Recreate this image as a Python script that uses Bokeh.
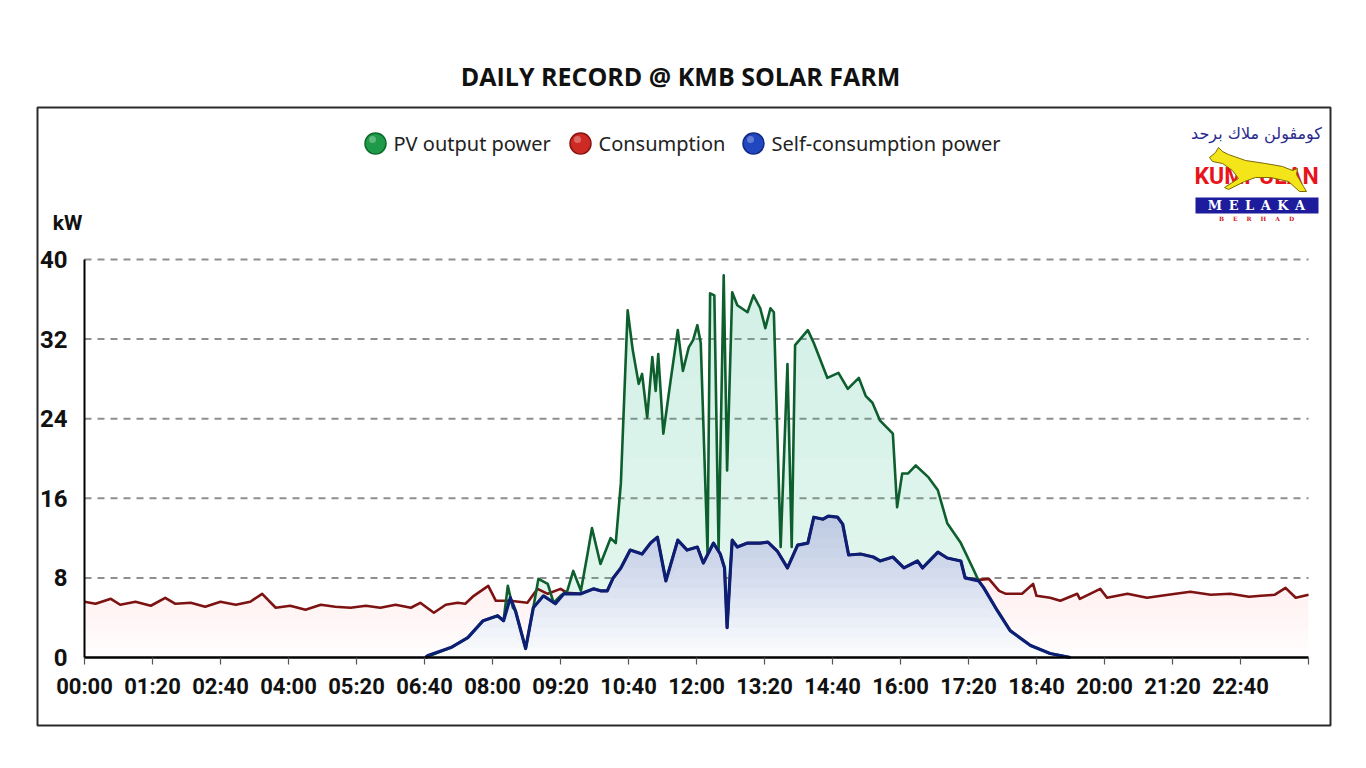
from bokeh.plotting import figure
from bokeh.models import LinearAxis, FixedTicker, Range1d
from bokeh.core.properties import value
from bokeh.embed import file_html
from bokeh.resources import INLINE

# ---------------- data (time in minutes since 00:00, power in kW) ----------------
pv_t = [401, 431, 451, 469, 486, 493, 498, 504, 507, 519, 528, 534, 545, 552, 560, 568, 575,
        584, 592, 597, 607, 619, 625, 631, 639, 645, 652, 656, 662, 668, 672, 675, 681, 689,
        698, 704, 711, 716, 721, 725, 733, 736, 741, 746, 752, 756, 762, 768, 780, 787, 795,
        801, 807, 811, 819, 827, 832, 836, 851, 858, 874, 887, 898, 911, 919, 927, 936, 951,
        956, 962, 969, 978, 993, 1004, 1015, 1031, 1045, 1052, 1058, 1074, 1089, 1113, 1136, 1160]
pv_kw = [0.0, 1.0, 2.0, 3.7, 4.2, 3.7, 7.2, 5.0, 4.7, 0.9, 5.0, 7.9, 7.4, 5.5, 6.2, 6.7, 8.7,
         6.7, 10.5, 13.0, 9.4, 12.0, 11.5, 17.5, 34.9, 30.9, 27.5, 28.5, 24.1, 30.2, 26.8, 30.5, 22.5, 27.5,
         32.9, 28.8, 31.2, 31.9, 33.4, 31.6, 10.5, 36.6, 36.4, 10.8, 38.4, 18.8, 36.7, 35.4, 34.7, 36.4, 35.1,
         33.1, 35.1, 34.7, 11.1, 29.5, 11.1, 31.4, 32.9, 31.6, 28.1, 28.6, 27.0, 28.1, 26.3, 25.6, 23.8, 22.5,
         15.1, 18.5, 18.5, 19.3, 18.1, 16.8, 13.5, 11.5, 9.0, 7.7, 7.0, 4.7, 2.7, 1.2, 0.4, 0.0]

self_t = [401, 404, 431, 451, 469, 486, 493, 501, 507, 519, 528, 540, 554, 564, 584, 599, 607,
          615, 622, 631, 642, 656, 666, 674, 684, 698, 709, 721, 728, 740, 748, 753, 756, 760,
          762, 768, 780, 795, 804, 815, 827, 839, 851, 858, 869, 875, 886, 892, 899, 913, 928,
          936, 951, 964, 980, 986, 1004, 1015, 1031, 1036, 1052, 1058, 1074, 1089, 1113, 1136, 1160]
self_kw = [0.0, 0.2, 1.0, 2.0, 3.7, 4.2, 3.7, 6.0, 4.7, 0.9, 5.0, 6.2, 5.4, 6.4, 6.4, 6.9, 6.7,
           6.7, 8.0, 9.0, 10.8, 10.4, 11.5, 12.1, 7.7, 11.8, 10.8, 11.1, 9.5, 11.5, 10.4, 9.0, 3.0, 9.0,
           11.8, 11.1, 11.5, 11.5, 11.6, 10.7, 9.0, 11.3, 11.5, 14.1, 13.9, 14.2, 14.1, 13.4, 10.3, 10.4, 10.1,
           9.7, 10.1, 9.0, 9.7, 9.0, 10.6, 10.0, 9.7, 8.0, 7.7, 7.0, 4.7, 2.7, 1.2, 0.4, 0.0]

cons_am_t = [0, 13, 31, 42, 60, 78, 95, 107, 125, 142, 160, 178, 195, 209, 225, 242, 260, 278,
             295, 313, 331, 348, 366, 384, 395, 411, 425, 439, 448, 458, 475, 484, 501, 521,
             533, 545, 560, 568]
cons_am_kw = [5.6, 5.4, 5.9, 5.3, 5.6, 5.2, 6.0, 5.4, 5.5, 5.1, 5.6, 5.3, 5.6, 6.4, 5.0, 5.2, 4.8, 5.3,
              5.1, 5.0, 5.2, 5.0, 5.3, 5.0, 5.5, 4.5, 5.3, 5.5, 5.4, 6.2, 7.2, 5.7, 5.7, 5.5,
              6.9, 6.4, 6.9, 6.5]
cons_pm_t = [1052, 1064, 1076, 1084, 1103, 1116, 1120, 1136, 1148, 1168, 1171, 1183, 1195, 1203,
             1227, 1250, 1275, 1301, 1325, 1348, 1370, 1384, 1400, 1413, 1425, 1440]
cons_pm_kw = [7.8, 7.9, 6.7, 6.4, 6.4, 7.4, 6.2, 6.0, 5.7, 6.4, 5.9, 6.4, 6.9, 6.0,
              6.4, 6.0, 6.3, 6.6, 6.3, 6.4, 6.1, 6.2, 6.3, 7.0, 6.0, 6.3]

# daytime consumption is covered by self-consumption (PV above load)
day = [(t, k) for t, k in zip(self_t, self_kw) if 575 <= t <= 1045]
cons_t = cons_am_t + [t for t, _ in day] + cons_pm_t
cons_kw = cons_am_kw + [k for _, k in day] + cons_pm_kw

x_ticks = list(range(0, 1441, 80))
x_labels = ["00:00", "01:20", "02:40", "04:00", "05:20", "06:40", "08:00", "09:20", "10:40",
            "12:00", "13:20", "14:40", "16:00", "17:20", "18:40", "20:00", "21:20", "22:40", ""]
y_ticks = [0, 8, 16, 24, 32, 40]
grid_levels = [8, 16, 24, 32, 40]

title_text = "DAILY RECORD @ KMB SOLAR FARM"
legend_names = ["PV output power", "Consumption", "Self-consumption power"]

# ---------------- layout geometry ----------------
W, H = 1350, 750
SX, SY = 0.85, 9.95          # px per minute, px per kW
OX, OY = 84, 657             # canvas px of (t=0, kW=0)


def dx(X):  # canvas pixel -> data x (decorations only)
    return (X - OX) / SX


def dy(Y):  # canvas pixel -> data y (decorations only)
    return (OY - Y) / SY


p = figure(width=W, height=H, output_backend="svg", toolbar_location=None,
           x_range=Range1d(-OX / SX, (W - OX) / SX), y_range=Range1d((OY - H) / SY, OY / SY),
           x_axis_type=None, y_axis_type=None, min_border=0)
p.outline_line_color = None
p.background_fill_color = "white"
p.border_fill_color = "white"

TICKFONT = "Roboto"

# outer box
p.quad(left=[dx(37)], right=[dx(1330)], top=[dy(107)], bottom=[dy(725)],
       fill_color=None, line_color="#2b2b2b", line_width=2)

# grid lines
p.segment(x0=[0] * len(grid_levels), x1=[1440] * len(grid_levels), y0=grid_levels, y1=grid_levels,
          line_color="#8f8f8f", line_width=2, line_dash="7 6")

# fills: stacked translucent bands above fixed levels -> vertical gradient
for lvl in range(0, 8):
    p.varea(x=cons_t, y1=[min(k, lvl) for k in cons_kw], y2=cons_kw,
            fill_color="#e04848", fill_alpha=0.012)
p.varea(x=pv_t, y1=[0] * len(pv_t), y2=pv_kw, fill_color="#3ccf8a", fill_alpha=0.13)
for lvl in range(0, 40, 4):
    p.varea(x=pv_t, y1=[min(k, lvl) for k in pv_kw], y2=pv_kw,
            fill_color="#3ccf8a", fill_alpha=0.012)
p.varea(x=self_t, y1=[0] * len(self_t), y2=self_kw, fill_color="white", fill_alpha=1.0)
for lvl in range(0, 15):
    p.varea(x=self_t, y1=[min(k, lvl) for k in self_kw], y2=self_kw,
            fill_color="#5560b0", fill_alpha=0.026)

# lines
p.line(cons_t, cons_kw, line_color="#7d1212", line_width=2.6, line_join="round")
p.line(pv_t, pv_kw, line_color="#0e5f2e", line_width=2.6, line_join="round")
p.line(self_t, self_kw, line_color="#0d1f75", line_width=3.2, line_join="round")

# axes
yax = LinearAxis(fixed_location=0, bounds=(0, 40), ticker=FixedTicker(ticks=y_ticks))
yax.axis_line_color = "black"
yax.axis_line_width = 2
yax.major_tick_line_color = None
yax.minor_tick_line_color = None
yax.major_label_text_font = TICKFONT
yax.major_label_text_font_size = "24px"
yax.major_label_text_font_style = "bold"
yax.major_label_text_color = "#111111"
yax.major_label_standoff = 11
p.add_layout(yax, "left")

xax = LinearAxis(fixed_location=0, bounds=(0, 1440), ticker=FixedTicker(ticks=x_ticks))
xax.major_label_overrides = {t: lab for t, lab in zip(x_ticks, x_labels)}
xax.axis_line_color = "black"
xax.axis_line_width = 2.5
xax.major_tick_line_color = "#555555"
xax.major_tick_line_width = 1.2
xax.major_tick_out = 7
xax.major_tick_in = 0
xax.minor_tick_line_color = None
xax.major_label_text_font = TICKFONT
xax.major_label_text_font_size = "22px"
xax.major_label_text_font_style = "bold"
xax.major_label_text_color = "#111111"
xax.major_label_standoff = 9
p.add_layout(xax, "below")

# kW label
p.text(x=[dx(67)], y=[dy(222)], text=["kW"], text_font=value(TICKFONT), text_font_size="21px",
       text_font_style="bold", text_align="center", text_baseline="middle", text_color="#111111")

# title
p.text(x=[dx(680)], y=[dy(75)], text=[title_text], text_font=value("Open Sans"),
       text_font_size="25px", text_font_style="bold", text_align="center",
       text_baseline="middle", text_color="#111111")

# legend
leg_x = [375, 580, 753]
leg_fill = ["#1e9a48", "#cc2a22", "#2046c0"]
leg_line = ["#0d6a2c", "#8a1410", "#122a80"]
p.scatter(x=[dx(v) for v in leg_x], y=[dy(143)] * 3, size=21, marker="circle",
          fill_color=leg_fill, line_color=leg_line, line_width=1.5)
p.scatter(x=[dx(v - 3) for v in leg_x], y=[dy(139)] * 3, size=7, marker="circle",
          fill_color="white", fill_alpha=0.3, line_color=None)
p.text(x=[dx(v + 18) for v in leg_x], y=[dy(143)] * 3, text=legend_names,
       text_font=value("Noto Sans"), text_font_size="20px", text_align="left",
       text_baseline="middle", text_color="#222222")

# logo (Kumpulan Melaka Berhad)
NB = "\u2002"
p.text(x=[dx(1256)], y=[dy(133)], text=["كومڤولن ملاك برحد"], text_font=value("DejaVu Sans"),
       text_font_size="16px", text_align="center", text_baseline="middle", text_color="#2a2a8c")
p.text(x=[dx(1256)], y=[dy(176)], text=["KUMPULAN"], text_font=value("Roboto"), text_font_size="23px",
       text_font_style="bold", text_align="center", text_baseline="middle", text_color="#e8141c")
deer_px = [(1209, 157), (1215, 152), (1218, 147), (1222, 151), (1228, 154), (1245, 160), (1265, 163),
           (1282, 166), (1292, 170), (1297, 168), (1296, 174), (1303, 186), (1306, 191), (1299, 191),
           (1288, 181), (1270, 177), (1255, 177), (1244, 181), (1228, 189), (1224, 187), (1238, 178),
           (1232, 170), (1222, 163), (1212, 161)]
p.patch(x=[dx(a) for a, _ in deer_px], y=[dy(b) for _, b in deer_px], fill_color="#f3e51a",
        line_color="#7a6a00", line_width=1)
p.quad(left=[dx(1195)], right=[dx(1318)], top=[dy(197)], bottom=[dy(213)],
       fill_color="#1c1c9c", line_color=None)
p.text(x=[dx(1256)], y=[dy(205)], text=[NB.join("MELAKA")], text_font=value("DejaVu Serif"),
       text_font_size="13px", text_font_style="bold", text_align="center", text_baseline="middle",
       text_color="white")
p.text(x=[dx(1256)], y=[dy(218)], text=[(NB * 3).join("BERHAD")],
       text_font=value("DejaVu Serif"), text_font_size="6px", text_font_style="bold",
       text_align="center", text_baseline="middle", text_color="#d0141c")

open("out.html", "w").write(file_html(p, INLINE))
